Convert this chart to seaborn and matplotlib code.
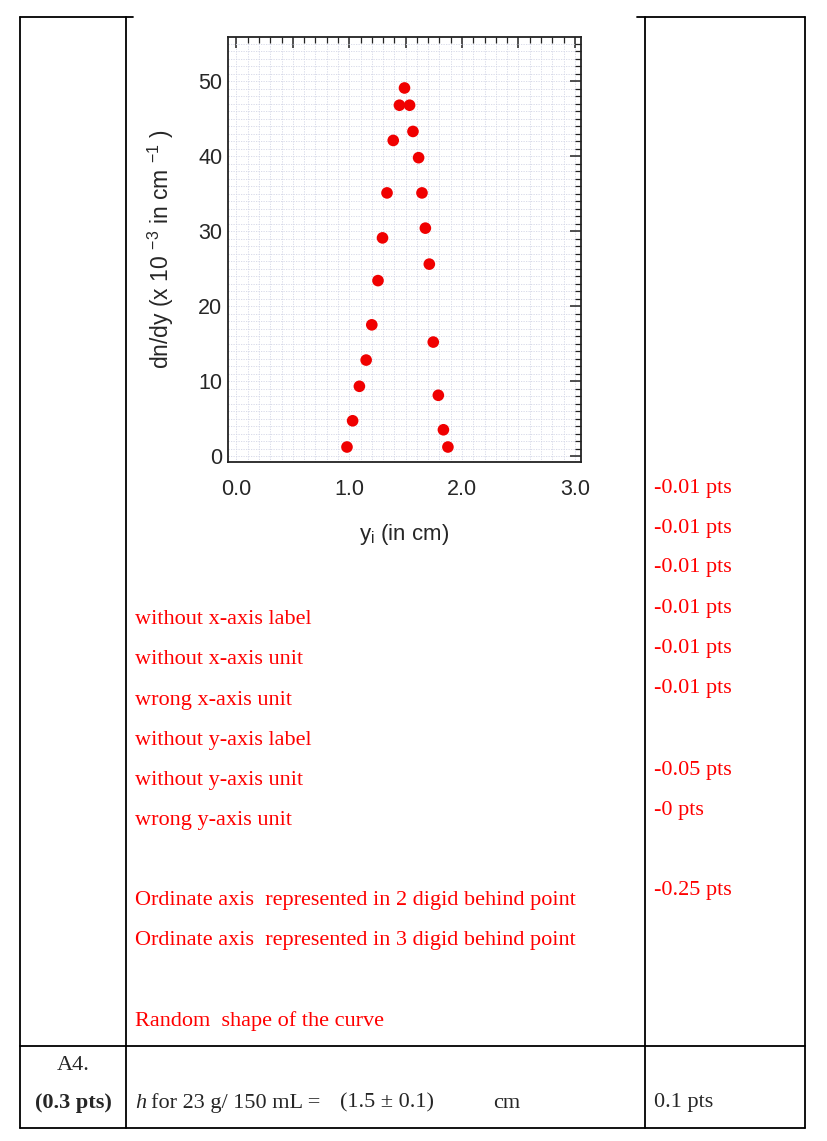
import numpy as np
import matplotlib
matplotlib.use("Agg")
import matplotlib.pyplot as plt
import seaborn as sns
from matplotlib.lines import Line2D
from matplotlib.ticker import MultipleLocator, FixedLocator, FixedFormatter

# data
y_pos = [0.98, 1.03, 1.09, 1.15, 1.20, 1.255, 1.295, 1.335, 1.39, 1.445, 1.49,
         1.535, 1.565, 1.615, 1.645, 1.675, 1.71, 1.745, 1.79, 1.835, 1.875]
dndy = [1.2, 4.7, 9.3, 12.8, 17.5, 23.4, 29.1, 35.1, 42.1, 46.8, 49.1,
        46.8, 43.3, 39.8, 35.1, 30.4, 25.6, 15.2, 8.1, 3.5, 1.2]

x_ticks = [0.0, 0.5, 1.0, 1.5, 2.0, 2.5, 3.0]
x_tick_labels = ["0.0", "", "1.0", "", "2.0", "", "3.0"]
y_ticks = [0, 10, 20, 30, 40, 50]

# grading notes
notes_mid = ["without x-axis label", "without x-axis unit", "wrong x-axis unit",
             "without y-axis label", "without y-axis unit", "wrong y-axis unit",
             "Ordinate axis  represented in 2 digid behind point",
             "Ordinate axis  represented in 3 digid behind point",
             "Random  shape of the curve"]
notes_mid_y = [616, 656, 697, 737, 777, 817, 898, 938, 1018]
notes_pts = ["-0.01 pts", "-0.01 pts", "-0.01 pts", "-0.01 pts", "-0.01 pts",
             "-0.01 pts", "-0.05 pts", "-0 pts", "-0.25 pts"]
notes_pts_y = [485, 525, 565, 605, 645, 685, 767, 807, 887]

W, H = 827, 1141

sns.set_style("white")
plt.rcParams["font.family"] = ["Liberation Sans", "DejaVu Sans"]
plt.rcParams["mathtext.fontset"] = "custom"
plt.rcParams["mathtext.rm"] = "Liberation Sans"
plt.rcParams["mathtext.it"] = "Liberation Sans:italic"

fig = plt.figure(figsize=(W / 100, H / 100), dpi=100)
fig.patch.set_facecolor("white")


def fx(px):
    return px / W


def fy(py):
    return 1 - py / H


# ---- chart ----
ax_l, ax_r, ax_t, ax_b = 228, 581, 37, 462
ax = fig.add_axes([fx(ax_l), fy(ax_b), fx(ax_r - ax_l), (ax_b - ax_t) / H])
sns.scatterplot(x=y_pos, y=dndy, ax=ax, color="#f00000", s=70, edgecolor="none",
                zorder=5)
ax.set_xlim(-0.075, 3.055)
ax.set_ylim(-0.8, 55.9)

ax.xaxis.set_major_locator(FixedLocator(x_ticks))
ax.xaxis.set_major_formatter(FixedFormatter(x_tick_labels))
ax.xaxis.set_minor_locator(MultipleLocator(0.1))
ax.yaxis.set_major_locator(FixedLocator(y_ticks))
ax.yaxis.set_minor_locator(MultipleLocator(1))

ax.tick_params(which="both", direction="in", top=True, right=True, color="#222222")
ax.tick_params(which="major", length=8, width=1.1, labelsize=15.5)
ax.tick_params(which="minor", length=4.5, width=0.9)
ax.tick_params(axis="x", which="major", pad=12)
ax.tick_params(axis="y", which="major", pad=4)

ax.grid(which="both", color="#d3d6e6", linestyle=(0, (1.5, 1.5)), linewidth=0.6)
ax.set_axisbelow(True)
for sp in ax.spines.values():
    sp.set_color("#222222")
    sp.set_linewidth(1.3)

ax.set_xlabel("y$_\\mathrm{i}$ (in cm)", fontsize=16, labelpad=16)
ax.set_ylabel("dn/dy (x 10 $^{\\mathrm{-3}}$ in cm $^{\\mathrm{-1}}$ )", fontsize=16.5,
              labelpad=16)

# ---- table frame ----
L, C1, C2, R = 20, 126, 645, 805
T, M, B = 17, 1046, 1128
lw = 1.3
segs = [
    ((L, T), (133, T)), ((637, T), (R, T)),
    ((L, M), (R, M)), ((L, B), (R, B)),
    ((L, T), (L, B)), ((C1, T), (C1, B)),
    ((C2, T), (C2, B)), ((R, T), (R, B)),
]
for (x0, y0), (x1, y1) in segs:
    fig.add_artist(Line2D([fx(x0), fx(x1)], [fy(y0), fy(y1)], color="black",
                          linewidth=lw, transform=fig.transFigure))

serif = ["Liberation Serif", "DejaVu Serif"]
red = "#ff0000"
fs = 16
dy = 3  # va="center" sits a bit high for these fonts

for txt, yy in zip(notes_mid, notes_mid_y):
    fig.text(fx(135), fy(yy + dy), txt, color=red, fontsize=fs, family=serif,
             ha="left", va="center")
for txt, yy in zip(notes_pts, notes_pts_y):
    fig.text(fx(654), fy(yy + dy), txt, color=red, fontsize=fs, family=serif,
             ha="left", va="center")

# bottom row
fig.text(fx(73), fy(1063 + dy), "A4.", fontsize=fs, family=serif, ha="center", va="center")
fig.text(fx(73), fy(1100 + dy), "(0.3 pts)", fontsize=fs, family=serif, weight="bold",
         ha="center", va="center")
fig.text(fx(135), fy(1100 + dy), "h", fontsize=fs, family=serif, style="italic",
         ha="left", va="center")
fig.text(fx(151), fy(1100 + dy), "for 23 g/ 150 mL =", fontsize=fs, family=serif,
         ha="left", va="center")
fig.text(fx(340), fy(1100 + dy), "(1.5 \u00b1 0.1)", fontsize=fs, family=serif,
         ha="left", va="center")
fig.text(fx(493), fy(1100 + dy), "cm", fontsize=fs, family=serif, ha="left", va="center")
fig.text(fx(654), fy(1100 + dy), "0.1 pts", fontsize=fs, family=serif, ha="left",
         va="center")

fig.savefig("out.png", dpi=100, facecolor="white")
